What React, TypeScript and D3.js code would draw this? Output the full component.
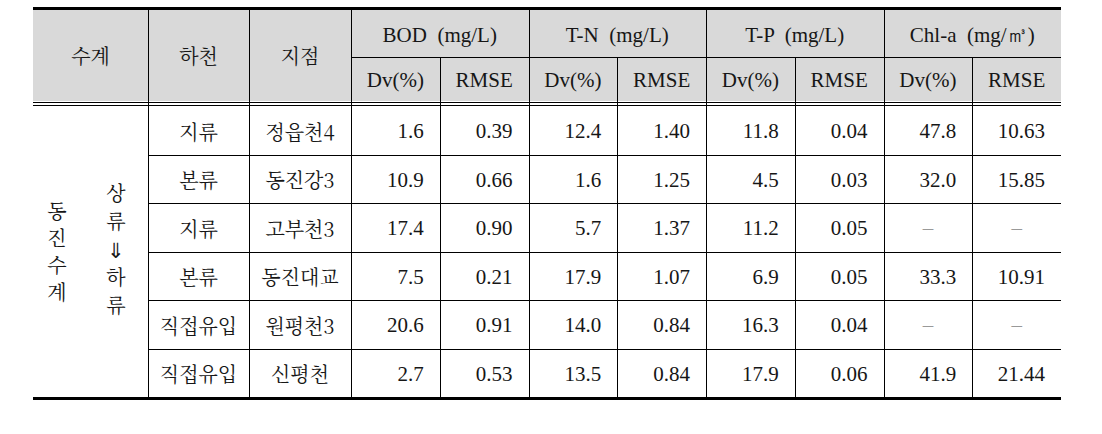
import React from "react";
import * as d3 from "d3";

const basins = ["동진수계"];
const flowLabel = ["상", "류", "⇓", "하", "류"];
const streamTypes = ["지류", "본류", "지류", "본류", "직접유입", "직접유입"];
const stations = ["정읍천4", "동진강3", "고부천3", "동진대교", "원평천3", "신평천"];
const groupHeaders = ["BOD (mg/L)", "T-N (mg/L)", "T-P (mg/L)", "Chl-a (mg/㎥)"];
const subHeaders = ["Dv(%)", "RMSE"];
const leftHeaders = ["수계", "하천", "지점"];

const bodDv = [1.6, 10.9, 17.4, 7.5, 20.6, 2.7];
const bodRmse = [0.39, 0.66, 0.9, 0.21, 0.91, 0.53];
const tnDv = [12.4, 1.6, 5.7, 17.9, 14.0, 13.5];
const tnRmse = [1.4, 1.25, 1.37, 1.07, 0.84, 0.84];
const tpDv = [11.8, 4.5, 11.2, 6.9, 16.3, 17.9];
const tpRmse = [0.04, 0.03, 0.05, 0.05, 0.04, 0.06];
const chlDv: (number | null)[] = [47.8, 32.0, null, 33.3, null, 41.9];
const chlRmse: (number | null)[] = [10.63, 15.85, null, 10.91, null, 21.44];

const valueCols = [bodDv, bodRmse, tnDv, tnRmse, tpDv, tpRmse, chlDv, chlRmse];

export default function App() {
  const W = 1102, H = 434;
  const left = 33, right = 1061;
  const top = 10, headMid = 57, headBot = 101, bodyTop = 106, bodyBot = 397;
  const leftEdges = [33, 148, 249, 351];

  const colX = d3.scaleBand<number>().domain(d3.range(8)).range([351, right]).paddingInner(0).paddingOuter(0);
  const rowY = d3.scaleBand<number>().domain(d3.range(stations.length)).range([bodyTop, bodyBot]);
  const groupX = d3.scaleBand<number>().domain(d3.range(4)).range([351, right]);

  const latin = "'Liberation Serif', 'Times New Roman', serif";
  const kor = "'Noto Serif CJK KR', 'Noto Sans CJK KR', sans-serif";
  const ink = "#161616";
  const fsNum = 21;
  const fsKor = 20;

  const lines: JSX.Element[] = [];
  const px = (v: number) => Math.round(v) + 0.5;
  const hl = (x1: number, x2: number, y: number, key: string, w = 1) =>
    lines.push(<line key={key} x1={x1} x2={x2} y1={w === 1 ? px(y) : y} y2={w === 1 ? px(y) : y} stroke="#000" strokeWidth={w} />);
  const vl = (x: number, y1: number, y2: number, key: string) =>
    lines.push(<line key={key} x1={px(x)} x2={px(x)} y1={y1} y2={y2} stroke="#000" strokeWidth={1} />);

  [148, 249, 351].forEach((x, i) => vl(x, top, bodyTop, "hv" + i));
  d3.range(1, 4).forEach((g) => vl(groupX(g)!, top, bodyTop, "gv" + g));
  d3.range(8).filter((c) => c % 2 === 1).forEach((c) => vl(colX(c)!, headMid, bodyTop, "sv" + c));
  [148, 249, 351].forEach((x, i) => vl(x, bodyTop, bodyBot, "bv" + i));
  d3.range(1, 8).forEach((c) => vl(colX(c)!, bodyTop, bodyBot, "bcv" + c));
  hl(351, right, headMid, "hm");
  hl(left, right, headBot + 1, "db1");
  hl(left, right, headBot + 4, "db2");
  d3.range(1, stations.length).forEach((r) => hl(148, right, rowY(r)!, "rl" + r));
  hl(left, right, top - 1.5, "top", 3);
  hl(left, right, bodyBot + 1.5, "bot", 3);

  const texts: JSX.Element[] = [];
  leftHeaders.forEach((t, i) =>
    texts.push(
      <text key={"lh" + i} x={(leftEdges[i] + leftEdges[i + 1]) / 2} y={(top + headBot) / 2} fontFamily={kor} fontSize={fsKor} textAnchor="middle" dominantBaseline="central" fill={ink}>{t}</text>
    )
  );
  groupHeaders.forEach((t, g) =>
    texts.push(
      <text key={"gh" + g} x={groupX(g)! + groupX.bandwidth() / 2} y={(top + headMid) / 2 + 1} fontFamily={latin} fontSize={fsNum} textAnchor="middle" dominantBaseline="central" fill={ink} xmlSpace="preserve">{t.replace(" ", "  ")}</text>
    )
  );
  d3.range(8).forEach((c) =>
    texts.push(
      <text key={"sh" + c} x={colX(c)! + colX.bandwidth() / 2} y={(headMid + headBot) / 2 + 1} fontFamily={latin} fontSize={fsNum} textAnchor="middle" dominantBaseline="central" fill={ink}>{subHeaders[c % 2]}</text>
    )
  );

  const basinChars = Array.from(basins[0]);
  const midY = (bodyTop + bodyBot) / 2;
  const stepA = 27;
  basinChars.forEach((ch, i) =>
    texts.push(
      <text key={"bc" + i} x={57} y={midY - 1 + (i - (basinChars.length - 1) / 2) * stepA} fontFamily={kor} fontSize={fsKor} textAnchor="middle" dominantBaseline="central" fill={ink}>{ch}</text>
    )
  );
  flowLabel.forEach((ch, i) =>
    texts.push(
      <text key={"fl" + i} x={116} y={midY - 3 + (i - (flowLabel.length - 1) / 2) * 28}
        fontFamily={ch === "⇓" ? "'Noto Sans CJK KR', 'DejaVu Sans', sans-serif" : kor}
        fontSize={ch === "⇓" ? 21 : fsKor} fontWeight={ch === "⇓" ? 300 : 400}
        textAnchor="middle" dominantBaseline="central" fill={ink}>{ch}</text>
    )
  );

  stations.forEach((s, r) => {
    const cy = rowY(r)! + rowY.bandwidth() / 2 + 1;
    texts.push(
      <text key={"st" + r} x={(148 + 249) / 2} y={cy} fontFamily={kor} fontSize={fsKor} textAnchor="middle" dominantBaseline="central" fill={ink}>{streamTypes[r]}</text>
    );
    texts.push(
      <text key={"sn" + r} x={(249 + 351) / 2} y={cy} fontFamily={kor} fontSize={fsKor} textAnchor="middle" dominantBaseline="central" fill={ink}>{s}</text>
    );
    valueCols.forEach((col, c) => {
      const v = col[r];
      const x0 = colX(c)!;
      if (v === null || v === undefined) {
        texts.push(
          <text key={`v${r}-${c}`} x={x0 + colX.bandwidth() / 2} y={cy} fontFamily={latin} fontSize={fsNum} textAnchor="middle" dominantBaseline="central" fill="#999">–</text>
        );
      } else {
        texts.push(
          <text key={`v${r}-${c}`} x={x0 + colX.bandwidth() - 16} y={cy} fontFamily={latin} fontSize={fsNum} textAnchor="end" dominantBaseline="central" fill={ink}>{c % 2 === 0 ? v.toFixed(1) : v.toFixed(2)}</text>
        );
      }
    });
  });

  return (
    <svg width={W} height={H} style={{ position: "absolute", left: 0, top: 0, background: "#fff" }}>
      <rect x={0} y={0} width={W} height={H} fill="#fff" />
      <rect x={left} y={top} width={right - left} height={headBot - top} fill="#d9d9d9" />
      {lines}
      {texts}
    </svg>
  );
}
